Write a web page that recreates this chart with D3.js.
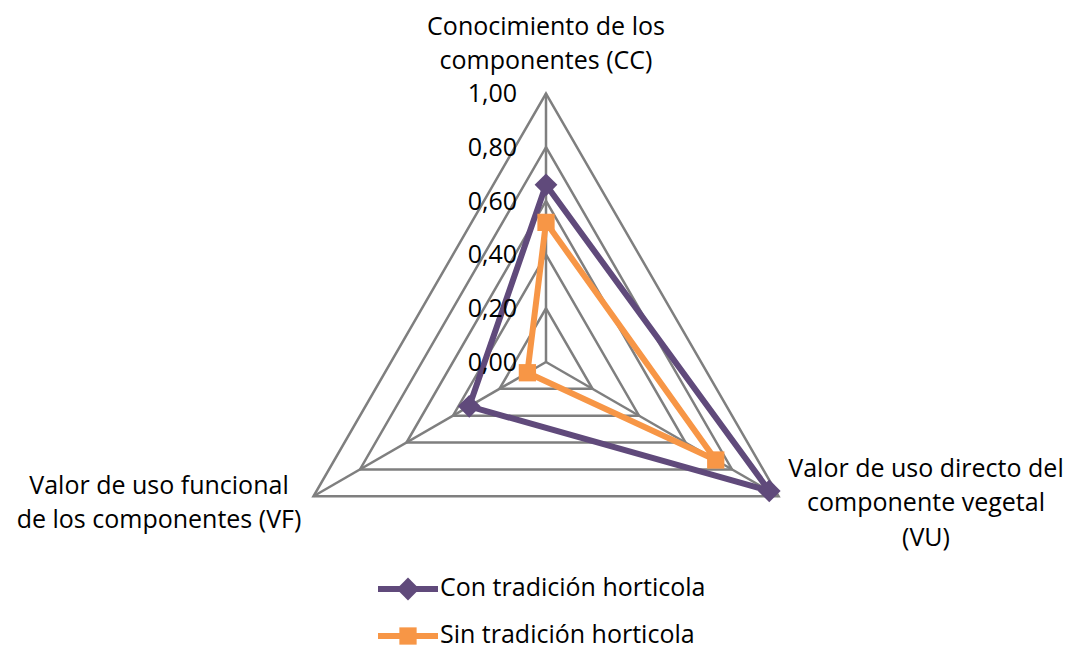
<!DOCTYPE html>
<html>
<head>
<meta charset="utf-8">
<script src="https://cdn.jsdelivr.net/npm/d3@7"></script>
<style>
  body { margin: 0; background: #fff; }
  svg text { font-family: "Open Sans", sans-serif; fill: #000; }
</style>
</head>
<body>
<div id="chart"></div>
<script>
// axes of the radar, clockwise from the top
var axes = [
    ["Conocimiento de los", "componentes (CC)"],
    ["Valor de uso directo del", "componente vegetal", "(VU)"],
    ["Valor de uso funcional", "de los componentes (VF)"]
];
var seriesNames = ["Con tradición horticola", "Sin tradición horticola"];
var conValues = [0.66, 0.96, 0.33];
var sinValues = [0.52, 0.73, 0.08];
var tickValues = [0, 0.2, 0.4, 0.6, 0.8, 1.0];

var layout = {
    "width": 1070,
    "height": 649,
    "cx": 546,
    "cy": 362,
    "radius": 268.5
};
var colors = ["#604a7b", "#f79646"];
var fontSize = 25;

var svg = d3.select("#chart").append("svg")
    .attr("width", layout.width)
    .attr("height", layout.height);

var r = d3.scaleLinear().domain([0, 1]).range([0, layout.radius]);
var fmt = function(v) { return d3.format(".2f")(v).replace(".", ","); };

function angle(i) { return -Math.PI / 2 + i * 2 * Math.PI / axes.length; }
function point(v, i) {
    return [layout.cx + r(v) * Math.cos(angle(i)), layout.cy + r(v) * Math.sin(angle(i))];
}
function marker(s) {
    return d3.symbol().type(s === 0 ? d3.symbolDiamond2 : d3.symbolSquare2).size(s === 0 ? 330 : 380)();
}

var line = d3.line();

// grid polygons
var grid = svg.append("g");
tickValues.forEach(function(t) {
    if (t === 0) return;
    grid.append("path")
        .attr("d", line(axes.map(function(a, i) { return point(t, i); })) + "Z")
        .attr("fill", "none")
        .attr("stroke", "#7f7f7f")
        .attr("stroke-width", 2.5);
});
axes.forEach(function(a, i) {
    var p = point(1, i);
    grid.append("line")
        .attr("x1", layout.cx).attr("y1", layout.cy)
        .attr("x2", p[0]).attr("y2", p[1])
        .attr("stroke", "#7f7f7f")
        .attr("stroke-width", 2.5);
});

// series
var series = [conValues, sinValues];
series.forEach(function(vals, s) {
    var pts = vals.map(function(v, i) { return point(v, i); });
    svg.append("path")
        .attr("d", line(pts) + "Z")
        .attr("fill", "none")
        .attr("stroke", colors[s])
        .attr("stroke-width", 6)
        .attr("stroke-linejoin", "round");
    pts.forEach(function(p) {
        svg.append("path")
            .attr("transform", "translate(" + p[0] + "," + p[1] + ")")
            .attr("d", marker(s))
            .attr("fill", colors[s]);
    });
});

// tick labels
svg.append("g").selectAll("text")
    .data(tickValues)
    .enter()
    .append("text")
    .attr("x", layout.cx - 29)
    .attr("y", function(d) { return layout.cy - r(d) + 2; })
    .attr("text-anchor", "end")
    .attr("dominant-baseline", "middle")
    .attr("font-size", fontSize)
    .text(fmt);

// axis labels
var labelPos = [
    {x: 546, y: 28},
    {x: 926, y: 470},
    {x: 159, y: 487}
];
axes.forEach(function(lines, i) {
    var t = svg.append("text")
        .attr("text-anchor", "middle")
        .attr("font-size", fontSize);
    lines.forEach(function(l, k) {
        t.append("tspan")
            .attr("x", labelPos[i].x)
            .attr("y", labelPos[i].y + k * 34.5)
            .attr("dominant-baseline", "middle")
            .text(l);
    });
});

// legend
var legend = svg.append("g");
seriesNames.forEach(function(name, s) {
    var y = 589 + s * 47;
    legend.append("line")
        .attr("x1", 378).attr("x2", 438)
        .attr("y1", y).attr("y2", y)
        .attr("stroke", colors[s])
        .attr("stroke-width", 6);
    legend.append("path")
        .attr("transform", "translate(408," + y + ")")
        .attr("d", marker(s))
        .attr("fill", colors[s]);
    legend.append("text")
        .attr("x", 440)
        .attr("y", y)
        .attr("dominant-baseline", "middle")
        .attr("font-size", fontSize)
        .text(name);
});
</script>
</body>
</html>
